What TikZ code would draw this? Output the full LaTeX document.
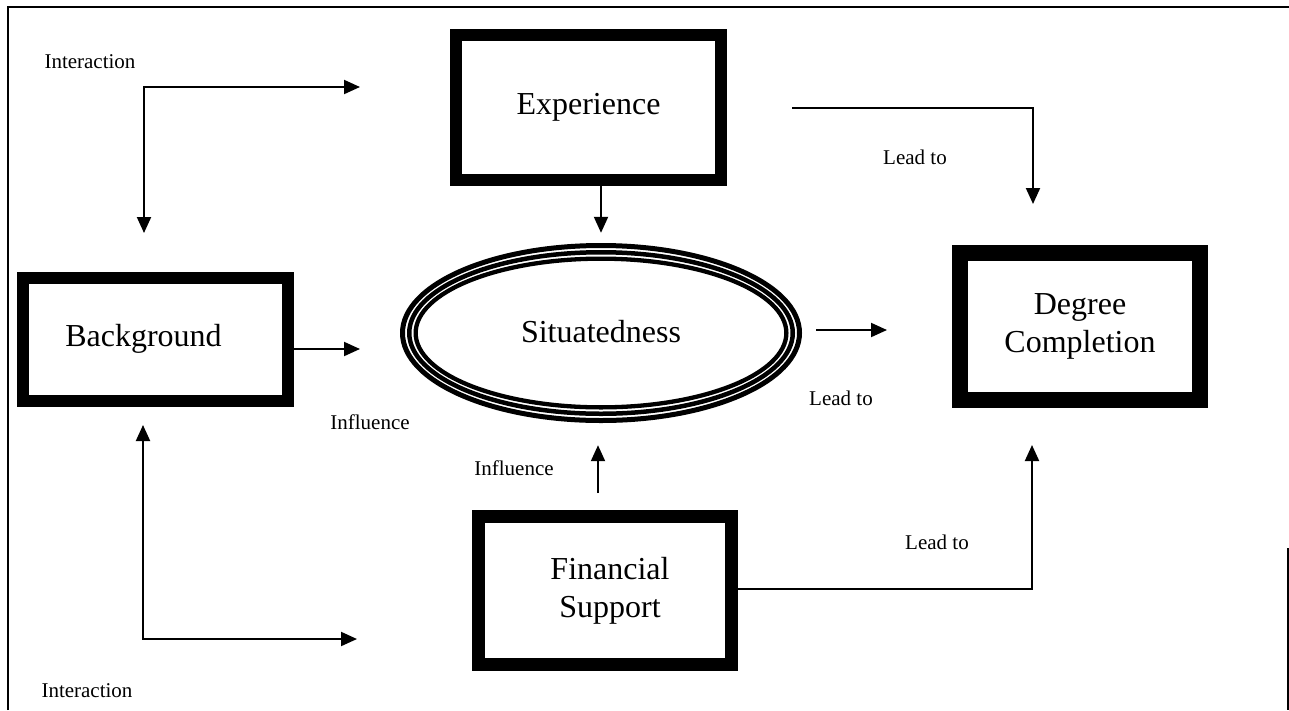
\documentclass[tikz,border=0pt]{standalone}
\usepackage{fontspec}
\setmainfont{Liberation Serif}
\usetikzlibrary{arrows.meta,shapes.geometric}
\begin{document}
\begin{tikzpicture}[x=1pt,y=-1pt,
  box/.style={draw, rectangle, inner sep=0pt, align=center, font=\fontsize{32}{38}\selectfont},
  lbl/.style={inner sep=0pt, font=\fontsize{21}{25}\selectfont},
  arr/.style={line width=2pt, -{Triangle[length=16pt,width=14pt]}},
  arrs/.style={line width=2pt, {Triangle[length=16pt,width=14pt]}-{Triangle[length=16pt,width=14pt]}},
  frame/.style={line width=1.2pt}]
\useasboundingbox (0,0) rectangle (1289,710);
% outer frame
\draw[frame] (8,710) -- (8,7) -- (1289,7);
\draw[frame] (1288,548) -- (1288,710);

% boxes
\node[box, line width=12pt, minimum width=265pt, minimum height=145pt] (exp) at (588.5,107.5) {\raisebox{-8pt}{Experience}};
\node[box, line width=12pt, minimum width=265pt, minimum height=123pt] (bg) at (155.5,339.5) {\raisebox{8pt}{Background\hspace{24pt}}};
\node[box, line width=13pt, minimum width=253pt, minimum height=148pt] (fin) at (605,590.5) {\hspace{10pt}Financial\\\hspace{10pt}Support};
\node[box, line width=16pt, minimum width=240pt, minimum height=147pt] (deg) at (1080,326.5) {Degree\\Completion};

% ellipse
\node[ellipse, inner sep=0pt, minimum width=402pt, minimum height=180pt, font=\fontsize{32}{38}\selectfont] (sit) at (601,333) {\raisebox{3pt}{Situatedness}};
\draw[line width=5pt] (sit.center) ellipse [x radius=198.5pt, y radius=87.5pt];
\draw[line width=4.5pt] (sit.center) ellipse [x radius=191.75pt, y radius=80.75pt];
\draw[line width=4.3pt] (sit.center) ellipse [x radius=185.35pt, y radius=74.35pt];

% helper coordinates
\coordinate (bgtip) at (360,349);
\coordinate (c1) at (1033,107.5);
\coordinate (c2) at (1032,589);
\coordinate (i1) at (144,87);
\coordinate (i1e) at (360,87);
\coordinate (i2) at (143,639);
\coordinate (i2e) at (357,639);

% connectors
\draw[arr, shorten >=10pt] (exp.south -| sit.north) -- (sit.north);
\draw[arr] (bg.east |- bgtip) -- (bgtip);
\draw[arr, shorten <=14pt, shorten >=65pt] ([yshift=3pt]sit.east) -- ([yshift=3pt]sit.east -| deg.west);
\draw[arr, shorten <=17pt, shorten >=22pt] ([xshift=-7pt]fin.north) -- ([xshift=-7pt]fin.north |- sit.south);
\draw[arr, shorten <=65pt, shorten >=41pt] (exp.east) -- (c1) -- (c1 |- deg.north);
\draw[arr, shorten >=37pt] (fin.east |- c2) -- (c2) -- (c2 |- deg.south);
\draw[arrs, shorten <=39pt] (i1 |- bg.north) -- (i1) -- (i1e);
\draw[arrs, shorten <=18pt] (i2 |- bg.south) -- (i2) -- (i2e);

% labels
\node[lbl] (l1) at (90,62) {Interaction};
\node[lbl] (l2) at (87,691) {Interaction};
\node[lbl] (l3) at (370,422) {Influence};
\node[lbl] (l4) at (514,468) {Influence};
\node[lbl] (l5) at (915,157) {Lead to};
\node[lbl] (l6) at (841,398) {Lead to};
\node[lbl] (l7) at (937,542) {Lead to};
\end{tikzpicture}
\end{document}
